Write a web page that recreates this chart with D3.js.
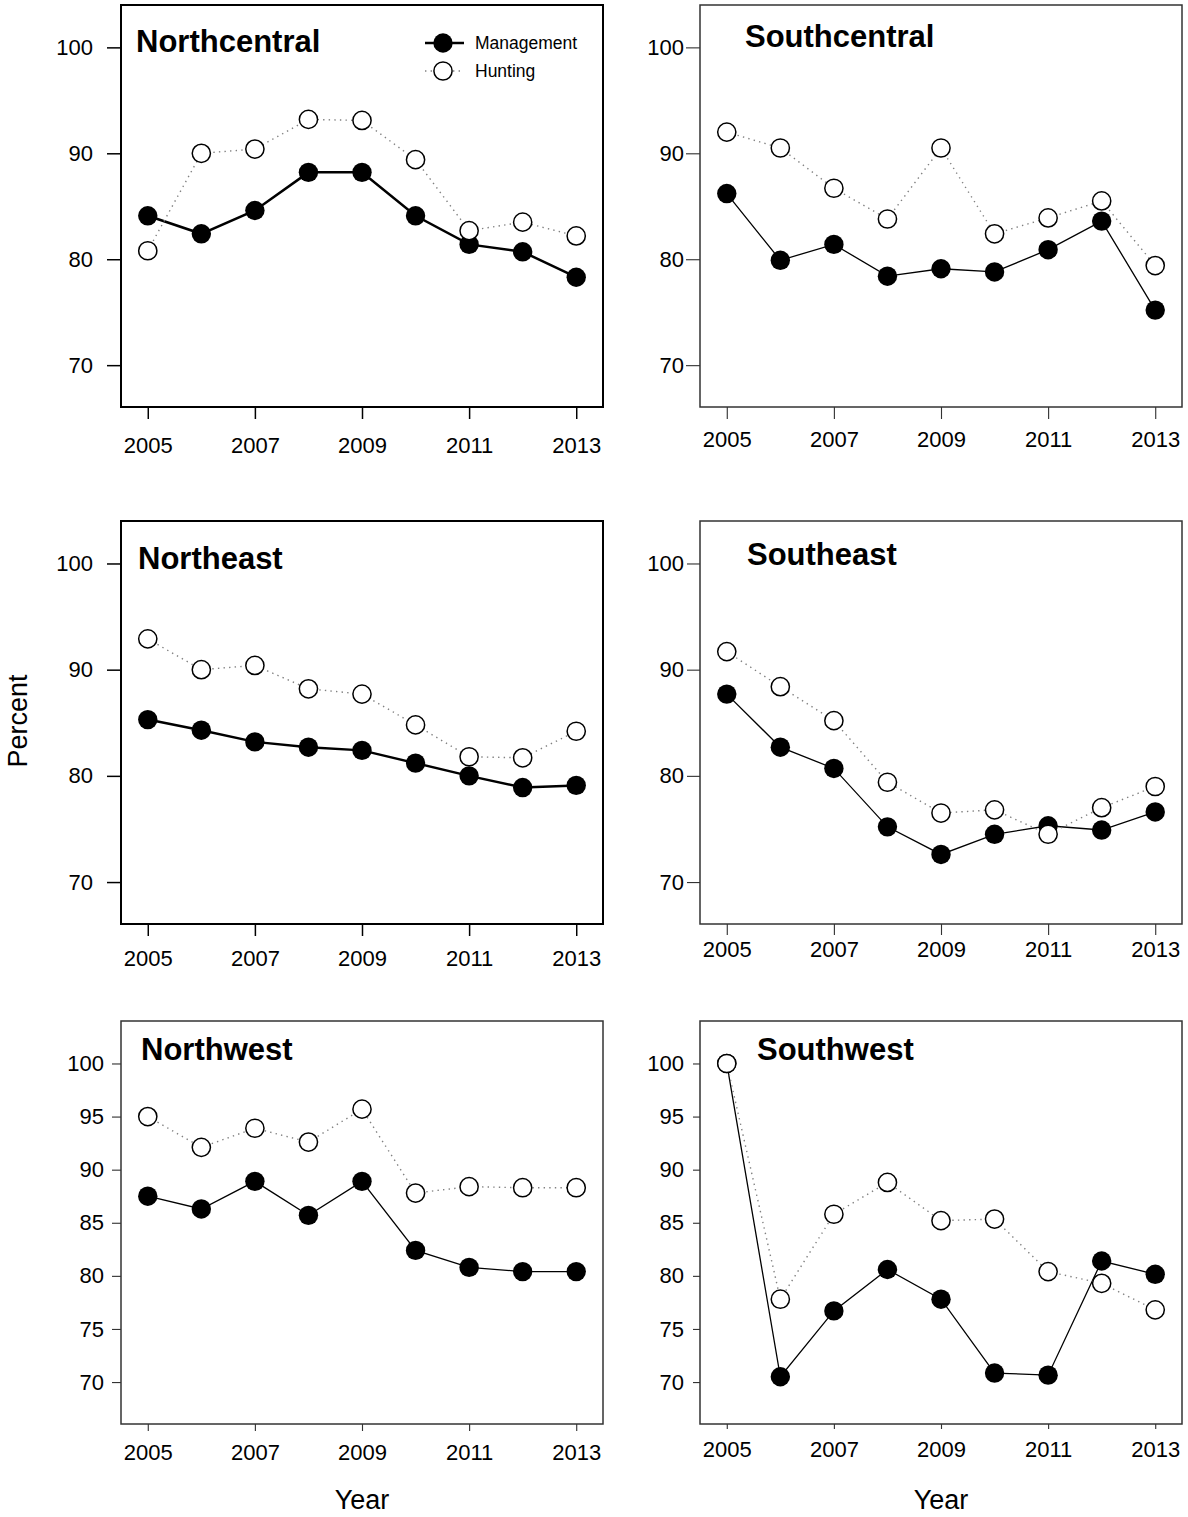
<!DOCTYPE html>
<html>
<head>
<meta charset="utf-8">
<script src="https://cdn.jsdelivr.net/npm/d3@7"></script>
<style>
  html, body { margin: 0; padding: 0; background: #fff; }
  svg { display: block; font-family: "Liberation Sans", Arial, Helvetica, sans-serif; }
</style>
</head>
<body>
<svg id="chart" width="1188" height="1517"></svg>
<script>
// ---------------- DATA ----------------
const years = [2005, 2006, 2007, 2008, 2009, 2010, 2011, 2012, 2013];
const xTickYears = [2005, 2007, 2009, 2011, 2013];
const yTicksWide = [70, 80, 90, 100];
const yTicksFine = [70, 75, 80, 85, 90, 95, 100];
const regionNames = ["Northcentral", "Southcentral", "Northeast", "Southeast", "Northwest", "Southwest"];
const seriesNames = ["Management", "Hunting"];

const managementNorthcentral = [84.1, 82.4, 84.6, 88.2, 88.2, 84.1, 81.4, 80.7, 78.3];
const huntingNorthcentral    = [80.8, 90.0, 90.4, 93.2, 93.1, 89.4, 82.7, 83.5, 82.2];

const managementSouthcentral = [86.2, 79.9, 81.4, 78.4, 79.1, 78.8, 80.9, 83.6, 75.2];
const huntingSouthcentral    = [92.0, 90.5, 86.7, 83.8, 90.5, 82.4, 83.9, 85.5, 79.4];

const managementNortheast = [85.3, 84.3, 83.2, 82.7, 82.4, 81.2, 80.0, 78.9, 79.1];
const huntingNortheast    = [92.9, 90.0, 90.4, 88.2, 87.7, 84.8, 81.8, 81.7, 84.2];

const managementSoutheast = [87.7, 82.7, 80.7, 75.2, 72.6, 74.5, 75.3, 74.9, 76.6];
const huntingSoutheast    = [91.7, 88.4, 85.2, 79.4, 76.5, 76.8, 74.5, 77.0, 79.0];

const managementNorthwest = [87.5, 86.3, 88.9, 85.7, 88.9, 82.4, 80.8, 80.4, 80.4];
const huntingNorthwest    = [95.0, 92.1, 93.9, 92.6, 95.7, 87.8, 88.4, 88.3, 88.3];

const managementSouthwest = [100.0, 70.5, 76.7, 80.6, 77.8, 70.85, 70.65, 81.4, 80.15];
const huntingSouthwest    = [100.0, 77.8, 85.8, 88.8, 85.2, 85.35, 80.4, 79.3, 76.8];

const managementByRegion = [managementNorthcentral, managementSouthcentral, managementNortheast,
                            managementSoutheast, managementNorthwest, managementSouthwest];
const huntingByRegion = [huntingNorthcentral, huntingSouthcentral, huntingNortheast,
                         huntingSoutheast, huntingNorthwest, huntingSouthwest];
const yTicksByRegion = [yTicksWide, yTicksWide, yTicksWide, yTicksWide, yTicksFine, yTicksFine];

// ---------------- LAYOUT ----------------
const layout = [
  { left: 121, top: 5,    w: 482, h: 402, heavy: true,  tick: 14, yLabRight: 93,  xLabBase: 453, titleX: 136, titleY: 52 },
  { left: 700, top: 5,    w: 482, h: 402, heavy: false, tick: 14, yLabRight: 684, xLabBase: 447, titleX: 745, titleY: 47 },
  { left: 121, top: 521,  w: 482, h: 403, heavy: true,  tick: 14, yLabRight: 93,  xLabBase: 966, titleX: 138, titleY: 569 },
  { left: 700, top: 521,  w: 482, h: 403, heavy: false, tick: 13, yLabRight: 684, xLabBase: 957, titleX: 747, titleY: 565 },
  { left: 121, top: 1021, w: 482, h: 403, heavy: false, tick: 9,  yLabRight: 104, xLabBase: 1460, titleX: 141, titleY: 1060 },
  { left: 700, top: 1021, w: 482, h: 403, heavy: false, tick: 7,  yLabRight: 684, xLabBase: 1457, titleX: 757, titleY: 1060 }
];

const svg = d3.select("#chart");
const R = 9.7;

layout.forEach((L, i) => {
  const g = svg.append("g");
  const x = d3.scaleLinear().domain([2004.5, 2013.5]).range([L.left, L.left + L.w]);
  const y = d3.scaleLinear().domain([66.05, 104.0]).range([L.top + L.h, L.top]);
  const frameColor = L.heavy ? "#000" : "#333";
  const frameWidth = L.heavy ? 2 : 1.5;
  const mgmtWidth = L.heavy ? 2.5 : 1.3;

  // y axis
  const yAxis = d3.axisLeft(y).tickValues(yTicksByRegion[i]).tickSize(L.tick)
      .tickPadding(L.left - L.tick - L.yLabRight).tickFormat(d3.format("d"));
  const ya = g.append("g").attr("transform", `translate(${L.left},0)`).call(yAxis);
  ya.select(".domain").remove();
  ya.selectAll("line").attr("stroke", frameColor).attr("stroke-width", frameWidth * 0.75);
  ya.selectAll("text").attr("font-size", 22).attr("fill", "#000")
    .attr("font-family", "Liberation Sans, Arial, sans-serif");

  // x axis
  const xAxis = d3.axisBottom(x).tickValues(xTickYears).tickSize(L.tick - 2).tickFormat(d3.format("d"));
  const xa = g.append("g").attr("transform", `translate(0,${L.top + L.h})`).call(xAxis);
  xa.select(".domain").remove();
  xa.selectAll("line").attr("stroke", frameColor).attr("stroke-width", frameWidth * 0.75);
  xa.selectAll("text").attr("font-size", 22).attr("fill", "#000")
    .attr("font-family", "Liberation Sans, Arial, sans-serif")
    .attr("dy", null).attr("y", L.xLabBase - (L.top + L.h));

  // frame
  g.append("rect").attr("x", L.left).attr("y", L.top).attr("width", L.w).attr("height", L.h)
    .attr("fill", "none").attr("stroke", frameColor).attr("stroke-width", frameWidth);

  const line = d3.line().x((d, j) => x(years[j])).y(d => y(d));
  const mg = managementByRegion[i];
  const hu = huntingByRegion[i];

  g.append("path").datum(mg).attr("d", line).attr("fill", "none")
    .attr("stroke", "#000").attr("stroke-width", mgmtWidth);
  g.append("path").datum(hu).attr("d", line).attr("fill", "none")
    .attr("stroke", "#808080").attr("stroke-width", 1.4).attr("stroke-dasharray", "1.4,4.2");

  g.selectAll("circle.m").data(mg).enter().append("circle").attr("class", "m")
    .attr("cx", (d, j) => x(years[j])).attr("cy", d => y(d)).attr("r", R).attr("fill", "#000");
  g.selectAll("circle.h").data(hu).enter().append("circle").attr("class", "h")
    .attr("cx", (d, j) => x(years[j])).attr("cy", d => y(d)).attr("r", R - 0.6)
    .attr("fill", "#fff").attr("stroke", "#000").attr("stroke-width", 1.5);

  // title
  g.append("text").attr("x", L.titleX).attr("y", L.titleY).text(regionNames[i])
    .attr("font-size", 31).attr("font-weight", "bold").attr("fill", "#000");

  // legend in first panel
  if (i === 0) {
    const lg = g.append("g");
    const lx0 = 425, lx1 = 464, lcx = 443, ltx = 475;
    const rows = [43, 71];
    lg.append("line").attr("x1", lx0).attr("x2", lx1).attr("y1", rows[0]).attr("y2", rows[0])
      .attr("stroke", "#000").attr("stroke-width", 2.5);
    lg.append("circle").attr("cx", lcx).attr("cy", rows[0]).attr("r", R).attr("fill", "#000");
    lg.append("line").attr("x1", lx0).attr("x2", lx1).attr("y1", rows[1]).attr("y2", rows[1])
      .attr("stroke", "#808080").attr("stroke-width", 1.4).attr("stroke-dasharray", "1.4,4.2");
    lg.append("circle").attr("cx", lcx).attr("cy", rows[1]).attr("r", R - 0.6)
      .attr("fill", "#fff").attr("stroke", "#000").attr("stroke-width", 1.5);
    seriesNames.forEach((s, k) => {
      lg.append("text").attr("x", ltx).attr("y", rows[k]).attr("dy", "0.35em")
        .attr("font-size", 17.5).attr("fill", "#000").text(s);
    });
  }
});

// axis titles
svg.append("text").attr("transform", "translate(27,721) rotate(-90)")
  .attr("text-anchor", "middle").attr("font-size", 27).text("Percent");
const xl = d3.scaleLinear().domain([2004.5, 2013.5]);
[layout[4], layout[5]].forEach(L => {
  xl.range([L.left, L.left + L.w]);
  svg.append("text").attr("x", xl(2009)).attr("y", 1509)
    .attr("text-anchor", "middle").attr("font-size", 27).text("Year");
});
</script>
</body>
</html>
